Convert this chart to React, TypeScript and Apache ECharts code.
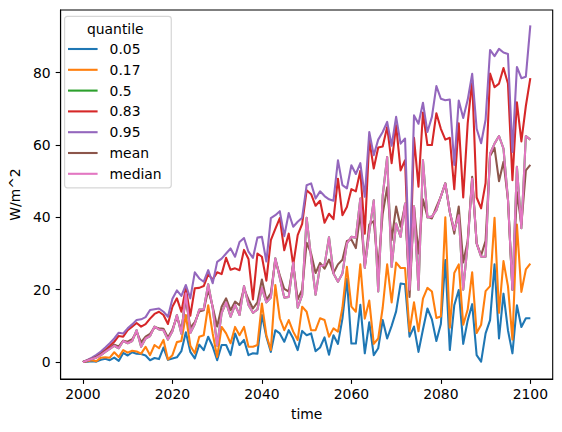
import React, { useEffect, useRef } from "react";
import * as echarts from "echarts";

// Yearly time axis 2000..2100
const years: number[] = [];
for (let y = 2000; y <= 2100; y++) years.push(y);

const xTicks = [2000, 2020, 2040, 2060, 2080, 2100];
const yTicks = [0, 20, 40, 60, 80];

// Radiative forcing quantiles (W/m^2)
const q05 = [
  0, 0.1, 0.2, 0.1, 0.6, 0.9, 0.5, 1.2, 0.3, 2.5,
  1.8, 2.7, 2.3, 2.2, 1.8, 0.5, 1.1, 0.8, 4.0, 0.6,
  1.0, 1.3, 3.0, 8.2, 2.8, 1.0, 4.8, 3.3, 7.0, 4.3,
  0.5, 4.7, 4.7, 1.9, 7.9, 4.7, 6.1, 1.9, 2.4, 2.3,
  13.0, 7.0, 2.8, 8.8, 7.9, 5.6, 8.8, 6.5, 3.3, 8.6,
  7.4, 7.9, 3.0, 4.0, 6.8, 2.0, 7.4, 5.0, 12.0, 23.0,
  5.1, 5.1, 15.8, 2.4, 11.0, 1.9, 3.8, 11.6, 6.5, 10.0,
  14.0, 21.7, 21.5, 7.0, 9.8, 2.8, 9.0, 14.8, 11.8, 5.8,
  10.5, 28.2, 3.3, 15.7, 19.9, 5.0, 11.5, 16.0, 1.9, 0.1,
  7.9, 11.6, 27.0, 6.5, 18.9, 8.8, 2.4, 15.7, 9.7, 12.1,
  12.1,
];

const q17 = [
  0, 0.2, 0.5, 0.2, 1.2, 1.3, 1.2, 2.7, 1.4, 3.3,
  2.6, 3.1, 2.9, 2.3, 4.2, 1.9, 4.7, 3.8, 6.1, 0.7,
  1.9, 5.5, 5.8, 13.0, 4.5, 2.4, 7.0, 7.4, 15.7, 7.9,
  1.4, 9.7, 7.9, 5.2, 9.7, 7.4, 9.7, 4.2, 4.2, 4.7,
  16.2, 7.4, 3.3, 21.3, 12.1, 8.8, 11.6, 8.4, 6.1, 15.3,
  13.9, 8.8, 8.8, 12.1, 11.6, 7.0, 9.3, 8.4, 15.0, 26.3,
  15.3, 13.9, 27.0, 12.0, 17.0, 5.0, 6.5, 15.0, 27.0, 16.5,
  27.5, 26.0, 26.0, 8.5, 16.5, 8.5, 17.5, 20.5, 19.5, 12.2,
  12.6, 40.0, 9.5, 24.6, 27.0, 10.3, 14.5, 24.8, 8.0, 10.3,
  19.6, 21.0, 39.9, 13.6, 27.9, 21.0, 6.2, 38.0, 19.4, 25.6,
  27.2,
];

const median = [
  0, 0.4, 0.8, 1.2, 1.9, 2.8, 3.6, 4.5, 3.8, 5.8,
  5.2, 5.8, 8.8, 4.2, 6.5, 7.2, 9.8, 9.0, 8.8, 6.2,
  8.5, 13.0, 7.8, 19.0, 8.0, 10.5, 14.5, 14.6, 21.5, 15.0,
  4.5, 13.5, 16.5, 12.5, 15.8, 13.0, 21.0, 15.8, 13.6, 14.5,
  20.5, 16.5, 17.8, 28.7, 23.3, 17.8, 18.0, 27.5, 15.0, 18.5,
  39.9, 28.8, 18.6, 26.5, 26.8, 34.5, 24.5, 22.2, 24.5, 32.8,
  34.6, 34.4, 45.2, 26.0, 36.0, 44.7, 19.5, 46.0, 56.7, 26.3,
  38.3, 34.6, 43.8, 20.0, 43.0, 19.9, 55.8, 40.0, 40.2, 42.0,
  45.8, 49.4, 41.5, 36.5, 40.6, 20.0, 32.8, 50.7, 32.8, 29.1,
  29.1, 57.6, 60.4, 62.5, 59.0, 45.0, 20.0, 54.0, 37.0, 62.5,
  61.5,
];

// the 0.5 quantile is the median itself
const q50 = median;

const mean = [
  0, 0.5, 0.9, 1.4, 2.1, 3.0, 3.8, 4.8, 4.3, 5.9,
  5.6, 6.3, 8.3, 5.5, 7.0, 7.8, 9.6, 9.3, 9.2, 6.8,
  9.0, 12.5, 8.8, 17.5, 9.5, 11.0, 14.0, 14.3, 20.0, 15.3,
  9.8, 15.3, 17.6, 14.3, 16.7, 15.7, 20.3, 17.3, 14.8, 16.5,
  22.8, 17.2, 19.0, 28.3, 24.0, 20.2, 19.5, 27.0, 17.3, 20.0,
  33.0, 30.0, 24.6, 27.4, 25.8, 28.3, 24.6, 27.0, 28.3, 33.5,
  33.9, 31.5, 41.2, 26.5, 38.0, 39.0, 26.0, 41.0, 48.3, 33.7,
  43.0, 37.4, 43.4, 18.0, 43.0, 30.0, 45.0, 40.2, 39.7, 42.9,
  45.7, 49.4, 41.5, 35.5, 43.0, 27.5, 33.5, 51.2, 32.8, 29.5,
  33.5, 57.0, 59.2, 50.0, 55.4, 45.0, 20.0, 47.0, 38.0, 53.0,
  54.5,
];

const q83 = [
  0, 0.4, 1.0, 1.6, 2.4, 3.4, 4.4, 5.6, 7.2, 7.0,
  8.8, 9.8, 10.8, 9.8, 10.5, 12.0, 13.3, 13.9, 13.0, 10.5,
  15.3, 17.6, 13.9, 20.5, 12.8, 20.4, 20.5, 21.0, 24.3, 22.8,
  24.8, 24.3, 28.8, 25.5, 25.9, 25.4, 31.0, 28.5, 17.3, 30.0,
  29.1, 22.5, 33.7, 36.8, 39.8, 30.9, 35.5, 26.8, 35.1, 38.2,
  47.5, 46.4, 43.2, 44.6, 38.5, 41.0, 39.5, 50.7, 40.6, 42.9,
  47.8, 47.2, 52.9, 35.5, 61.5, 53.5, 59.3, 59.6, 65.0, 55.0,
  65.5, 53.0, 55.8, 22.0, 62.0, 48.5, 69.0, 60.0, 60.0, 68.8,
  64.5, 61.5, 62.0, 47.8, 66.0, 45.5, 66.0, 78.0, 45.5, 42.5,
  49.5, 79.8, 76.0, 77.0, 81.3, 77.0, 50.3, 71.8, 61.0, 70.8,
  78.5,
];

const q95 = [
  0, 0.6, 1.2, 2.0, 2.9, 4.0, 5.2, 6.5, 8.1, 7.9,
  9.3, 10.4, 11.6, 11.8, 12.4, 14.4, 14.6, 14.8, 13.9, 12.5,
  17.5, 19.8, 18.3, 21.3, 17.6, 24.8, 23.1, 22.2, 25.4, 21.8,
  27.7, 28.6, 30.0, 31.4, 29.1, 33.2, 34.3, 30.5, 28.8, 34.4,
  34.6, 27.8, 39.8, 40.6, 41.7, 34.8, 41.2, 37.4, 38.8, 39.9,
  48.9, 49.4, 45.2, 47.2, 45.9, 45.0, 44.6, 55.8, 48.9, 48.0,
  54.4, 52.0, 55.0, 45.7, 63.6, 57.2, 61.5, 63.6, 66.4, 59.8,
  67.8, 60.4, 61.8, 25.0, 68.2, 65.9, 71.7, 63.6, 67.8, 76.3,
  72.8, 72.4, 72.6, 54.5, 72.3, 67.5, 72.5, 79.7, 64.5, 60.5,
  67.0, 86.3, 84.6, 86.6, 85.6, 85.2, 58.1, 81.6, 78.5, 78.9,
  93.1,
];

const seriesDefs: { name: string; values: number[]; color: string }[] = [
  { name: "0.05", values: q05, color: "#1f77b4" },
  { name: "0.17", values: q17, color: "#ff7f0e" },
  { name: "0.5", values: q50, color: "#2ca02c" },
  { name: "0.83", values: q83, color: "#d62728" },
  { name: "0.95", values: q95, color: "#9467bd" },
  { name: "mean", values: mean, color: "#8c564b" },
  { name: "median", values: median, color: "#e377c2" },
];

const FONT = "DejaVu Sans";
const FS = 13.9;

export default function App() {
  const ref = useRef<HTMLDivElement>(null);

  useEffect(() => {
    if (!ref.current) return;
    const chart = echarts.init(ref.current, null, { renderer: "svg" });

    const axisCommon = {
      splitLine: { show: false },
      axisLine: { show: true, onZero: false, lineStyle: { color: "#000", width: 1.1 } },
      nameTextStyle: { color: "#000", fontSize: FS, fontFamily: FONT },
    };

    chart.setOption({
      animation: false,
      backgroundColor: "#fff",
      grid: {
        left: 57.5,
        right: 9.3,
        top: 10,
        bottom: 53,
        show: true,
        borderColor: "#000",
        borderWidth: 1.1,
        backgroundColor: "transparent",
      },
      xAxis: {
        ...axisCommon,
        type: "value",
        min: 1995,
        max: 2105,
        name: "time",
        nameLocation: "middle",
        nameGap: 28,
        axisTick: {
          show: true,
          length: 4.9,
          customValues: xTicks,
          lineStyle: { color: "#000", width: 1.1 },
        },
        axisLabel: {
          customValues: xTicks,
          formatter: (v: number) => String(v),
          color: "#000",
          fontSize: FS,
          fontFamily: FONT,
          margin: 8,
        },
      },
      yAxis: {
        ...axisCommon,
        type: "value",
        min: -4.7,
        max: 97.35,
        name: "W/m^2",
        nameLocation: "middle",
        nameGap: 32,
        axisTick: {
          show: true,
          length: 4.9,
          customValues: yTicks,
          lineStyle: { color: "#000", width: 1.1 },
        },
        axisLabel: {
          customValues: yTicks,
          formatter: (v: number) => String(v),
          color: "#000",
          fontSize: FS,
          fontFamily: FONT,
          margin: 10,
        },
      },
      legend: {
        data: seriesDefs.map((s) => s.name),
        orient: "vertical",
        left: 64.6,
        top: 16.3,
        padding: [22.3, 9.6, 3.6, 3.4],
        itemGap: 0,
        itemWidth: 29.6,
        itemHeight: 2.1,
        icon: "rect",
        selectedMode: false,
        backgroundColor: "rgba(255,255,255,0.8)",
        borderColor: "rgba(204,204,204,0.8)",
        borderWidth: 1.2,
        borderRadius: 2.8,
        textStyle: {
          color: "#000",
          fontSize: FS,
          fontFamily: FONT,
          lineHeight: 20.8,
          padding: [0, 0, 0, 7],
        },
      },
      graphic: [
        {
          type: "text",
          x: 115.3,
          y: 29,
          z: 100,
          style: {
            text: "quantile",
            align: "center",
            verticalAlign: "middle",
            fontSize: FS,
            fontFamily: FONT,
            fill: "#000",
          },
        },
      ],
      series: seriesDefs.map((s) => ({
        name: s.name,
        type: "line",
        data: years.map((y, i) => [y, s.values[i]]),
        symbol: "none",
        color: s.color,
        lineStyle: { color: s.color, width: 2.08, join: "round" },
        emphasis: { disabled: true },
        silent: true,
      })),
    });

    return () => chart.dispose();
  }, []);

  return (
    <div
      ref={ref}
      style={{ position: "absolute", left: 0, top: 0, width: 562, height: 432 }}
    />
  );
}
